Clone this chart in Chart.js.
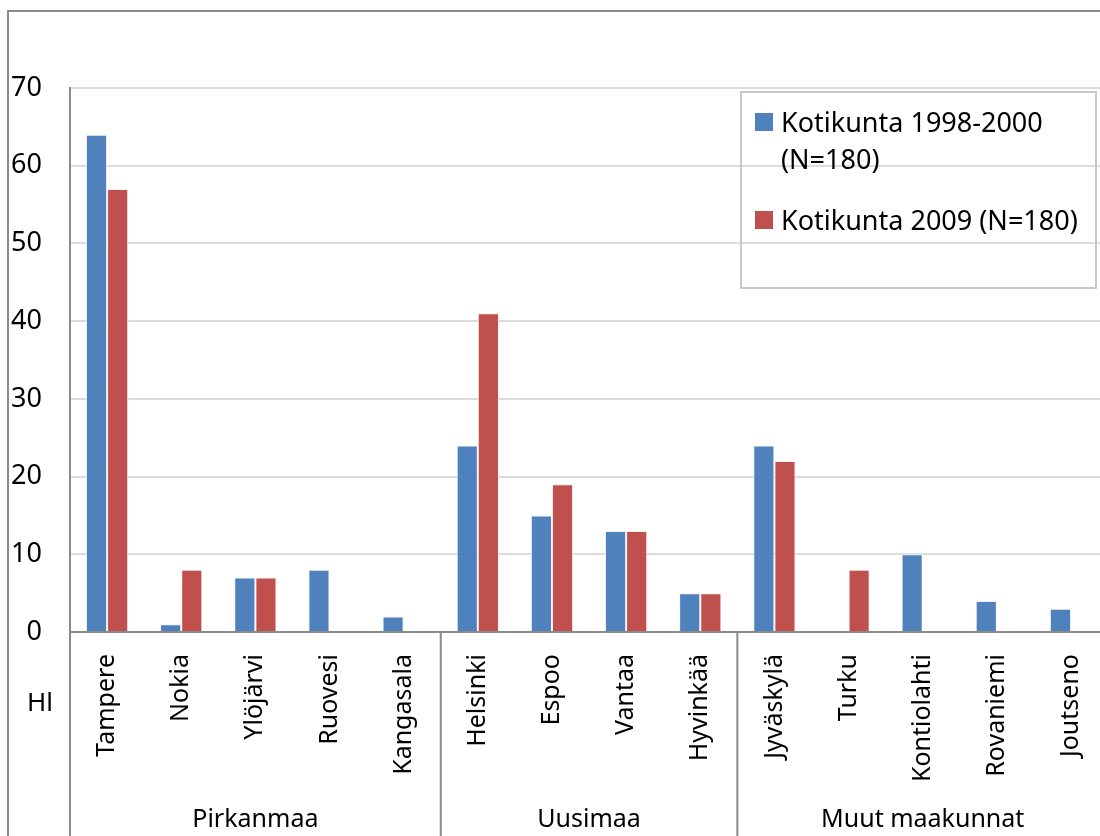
<!DOCTYPE html>
<html>
<head>
<meta charset="utf-8">
<script src="https://cdn.jsdelivr.net/npm/chart.js@4.4.0/dist/chart.umd.min.js"></script>
<style>
  html, body { margin: 0; padding: 0; background: #fff; overflow: hidden; }
  #wrap { position: relative; width: 1115px; height: 836px; }
  #legend {
    position: absolute; left: 740px; top: 91px; width: 353px; height: 194px;
    border: 2px solid #c8c8c8; font-family: 'Noto Sans', sans-serif; font-size: 27px;
    color: #000; box-sizing: content-box;
  }
  .item { position: absolute; left: 13px; display: flex; line-height: 37px; white-space: normal; }
  .sw { width: 18px; height: 18px; margin-top: 10px; margin-right: 8px; flex: none; }
</style>
</head>
<body>
<div id="wrap">
  <canvas id="chart" width="1115" height="836"></canvas>
  <div id="legend"></div>
</div>
<script>
const categories = ['Tampere', 'Nokia', 'Ylöjärvi', 'Ruovesi', 'Kangasala',
  'Helsinki', 'Espoo', 'Vantaa', 'Hyvinkää',
  'Jyväskylä', 'Turku', 'Kontiolahti', 'Rovaniemi', 'Joutseno'];
const home1998 = [64, 1, 7, 8, 2, 24, 15, 13, 5, 24, 0, 10, 4, 3];
const home2009 = [57, 8, 7, 0, 0, 41, 19, 13, 5, 22, 8, 0, 0, 0];
const groupNames = ['Pirkanmaa', 'Uusimaa', 'Muut maakunnat'];
const groupSizes = [5, 4, 5];
const yTicks = [0, 10, 20, 30, 40, 50, 60, 70];
const sideLabel = 'Hl';

const FONT = "'Noto Sans', sans-serif";
const LINE = '#8a8a8a';

const decor = {
  id: 'decor',
  afterDraw(chart) {
    const ctx = chart.ctx;
    const x = chart.scales.x;
    const area = chart.chartArea;
    const H = chart.height;
    ctx.save();
    ctx.strokeStyle = LINE;
    ctx.lineWidth = 2;
    // outer frame
    ctx.beginPath();
    ctx.moveTo(8, H); ctx.lineTo(8, 11); ctx.lineTo(chart.width, 11);
    ctx.stroke();
    // group separators
    const seps = [area.left];
    let idx = 0;
    groupSizes.forEach(n => {
      idx += n;
      if (idx < categories.length) {
        seps.push((x.getPixelForValue(idx - 1) + x.getPixelForValue(idx)) / 2);
      }
    });
    ctx.beginPath();
    seps.forEach(px => { ctx.moveTo(px, area.bottom); ctx.lineTo(px, H); });
    ctx.stroke();
    // group labels
    ctx.fillStyle = '#000';
    ctx.font = '25px ' + FONT;
    ctx.textAlign = 'center';
    ctx.textBaseline = 'middle';
    let start = 0;
    groupSizes.forEach((n, i) => {
      const c = (x.getPixelForValue(start) + x.getPixelForValue(start + n - 1)) / 2;
      ctx.fillText(groupNames[i], c, 820);
      start += n;
    });
    ctx.font = '26px ' + FONT;
    ctx.fillText(sideLabel, 40, 704);
    ctx.restore();
  }
};

const chart = new Chart(document.getElementById('chart'), {
  type: 'bar',
  data: {
    labels: categories,
    datasets: [{
      label: 'Kotikunta 1998-2000 (N=180)',
      data: home1998,
      backgroundColor: '#4F81BD',
      borderColor: '#f0f4fa',
      borderWidth: { left: 1, right: 1, top: 1, bottom: 0 }
    }, {
      label: 'Kotikunta 2009 (N=180)',
      data: home2009,
      backgroundColor: '#C0504D',
      borderColor: '#fbeeee',
      borderWidth: { left: 1, right: 1, top: 1, bottom: 0 }
    }]
  },
  options: {
    responsive: false,
    animation: false,
    layout: { padding: { top: 88, left: 0, right: 0, bottom: 0 } },
    plugins: { legend: { display: false }, tooltip: { enabled: false } },
    datasets: { bar: { categoryPercentage: 0.57, barPercentage: 1 } },
    scales: {
      x: {
        grid: { display: false },
        border: { display: true, color: LINE, width: 2 },
        ticks: {
          color: '#000', font: { family: FONT, size: 25 },
          minRotation: 90, maxRotation: 90, padding: 14, autoSkip: false
        },
        afterFit(s) { s.height = 836 - 632; }
      },
      y: {
        min: 0, max: 70,
        afterBuildTicks(s) { s.ticks = yTicks.map(v => ({ value: v })); },
        grid: { color: '#dcdcdc', lineWidth: 2, drawTicks: false },
        border: { display: true, color: LINE, width: 2 },
        ticks: { color: '#000', font: { family: FONT, size: 27 }, padding: 28 },
        afterFit(s) { s.width = 70; }
      }
    }
  },
  plugins: [decor]
});

const legend = document.getElementById('legend');
const tops = [10, 108];
chart.data.datasets.forEach((ds, i) => {
  const item = document.createElement('div');
  item.className = 'item';
  item.style.top = tops[i] + 'px';
  item.style.width = i === 0 ? '300px' : '345px';
  const sw = document.createElement('div');
  sw.className = 'sw';
  sw.style.background = ds.backgroundColor;
  const t = document.createElement('div');
  t.textContent = ds.label;
  item.appendChild(sw);
  item.appendChild(t);
  legend.appendChild(item);
});
</script>
</body>
</html>
